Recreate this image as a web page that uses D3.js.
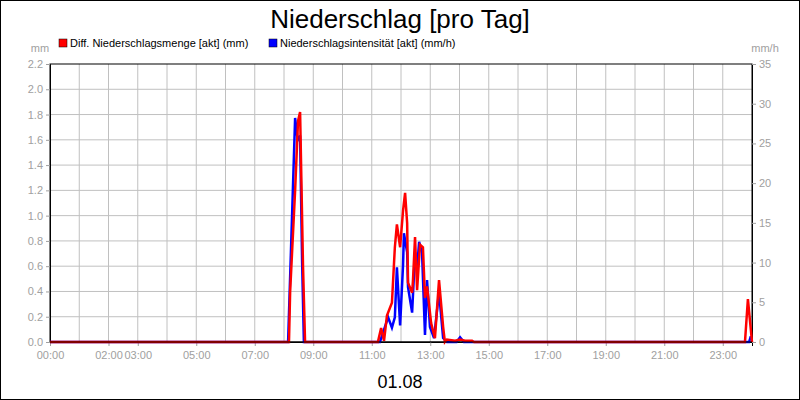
<!DOCTYPE html><html><head><meta charset="utf-8"><script src="https://cdn.jsdelivr.net/npm/d3@7"></script>
<style>body{margin:0}svg{font-family:Arial,"Liberation Sans",sans-serif}</style></head><body><svg id="c" width="800" height="400"></svg><script>
const tickHours=[0,2,3,5,7,9,11,13,15,17,19,21,23];
const tickLabels=["00:00","02:00","03:00","05:00","07:00","09:00","11:00","13:00","15:00","17:00","19:00","21:00","23:00"];
const leftTicks=[0,0.2,0.4,0.6,0.8,1.0,1.2,1.4,1.6,1.8,2.0,2.2];
const rightTicks=[0,5,10,15,20,25,30,35];
const redHours=[0,8.17,8.21,8.38,8.48,8.55,8.65,8.72,11.21,11.32,11.42,11.52,11.69,11.79,11.86,11.97,12.07,12.14,12.21,12.24,12.38,12.41,12.48,12.55,12.65,12.75,12.82,12.89,13.03,13.16,13.30,13.44,13.50,13.57,13.85,14.02,14.19,14.43,14.5,23.76,23.86,24];
const redVals=[0,0,0.4,1.2,1.75,1.82,0.6,0,0,0.11,0.01,0.21,0.31,0.75,0.93,0.75,1.04,1.18,0.94,0.47,0.39,0.49,0.83,0.41,0.77,0.75,0.35,0.44,0.15,0.03,0.49,0.12,0,0.02,0.01,0.02,0.01,0.01,0,0,0.34,0];
const blueHours=[0,8.14,8.38,8.45,8.48,8.55,8.62,8.68,11.28,11.56,11.69,11.79,11.86,11.97,12.07,12.10,12.21,12.24,12.38,12.48,12.55,12.62,12.72,12.82,12.89,12.99,13.13,13.30,13.44,13.57,13.9,14.02,14.15,23.9,23.95,24];
const blueVals=[0,0,28.2,26,25.5,26,10,0,0,3.1,1.8,3.1,9.4,2.1,9.7,13.7,11.3,6.9,3.7,11.3,9.4,12.6,11.2,0.9,7.8,1.9,0.5,6.3,0.5,0,0,0.6,0,0,0.6,0.6];
const svg=d3.select("#c");
svg.append("rect").attr("x",0.5).attr("y",0.5).attr("width",799).attr("height",399).attr("fill","#fff").attr("stroke","#000");
const L=50,R=752,T=64,B=342;
const x=d3.scaleLinear().domain([0,24]).range([L,R]);
const yl=d3.scaleLinear().domain([0,2.2]).range([B,T]);
const yr=d3.scaleLinear().domain([0,35]).range([B,T]);
const g=svg.append("g");
d3.range(1,24).forEach(h=>g.append("line").attr("x1",x(h)).attr("x2",x(h)).attr("y1",T).attr("y2",B).attr("stroke","#c0c0c0"));
leftTicks.slice(1,-1).forEach(v=>g.append("line").attr("x1",L).attr("x2",R).attr("y1",yl(v)).attr("y2",yl(v)).attr("stroke","#c0c0c0"));
g.append("rect").attr("x",L).attr("y",T).attr("width",R-L).attr("height",B-T).attr("fill","none").attr("stroke","#000");
const gray="#a0a0a0";
const ax=svg.append("g").attr("transform",`translate(0,${B})`).call(d3.axisBottom(x).tickValues(tickHours).tickFormat((d,i)=>tickLabels[i]).tickSizeOuter(0).tickSize(4));
const al=svg.append("g").attr("transform",`translate(${L},0)`).call(d3.axisLeft(yl).tickValues(leftTicks).tickFormat(d3.format(".1f")).tickSizeOuter(0).tickSize(4));
const ar=svg.append("g").attr("transform",`translate(${R},0)`).call(d3.axisRight(yr).tickValues(rightTicks).tickFormat(d3.format("d")).tickSizeOuter(0).tickSize(4));
[ax,al,ar].forEach(a=>{a.select(".domain").attr("stroke","#000");a.selectAll(".tick line").attr("stroke",gray);a.selectAll("text").attr("fill",gray).style("font-size","11px").style("font-family","Arial,'Liberation Sans',sans-serif");});
ax.selectAll("text").attr("dy","0.9em");
const lr=d3.line().x((d,i)=>x(redHours[i])).y(d=>yl(d));
const lb=d3.line().x((d,i)=>x(blueHours[i])).y(d=>yr(d));
svg.append("path").attr("d",lb(blueVals)).attr("fill","none").attr("stroke","#0000ff").attr("stroke-width",2.5);
svg.append("path").attr("d",lr(redVals)).attr("fill","none").attr("stroke","#ff0000").attr("stroke-width",2.5);
svg.append("line").attr("x1",L).attr("x2",R).attr("y1",B).attr("y2",B).attr("stroke","#000");
svg.append("text").attr("x",400).attr("y",28).attr("text-anchor","middle").style("font-size","26px").text("Niederschlag [pro Tag]");
svg.append("text").attr("x",400).attr("y",388).attr("text-anchor","middle").style("font-size","18px").text("01.08");
svg.append("text").attr("x",40).attr("y",52).attr("text-anchor","middle").attr("fill",gray).style("font-size","11px").text("mm");
svg.append("text").attr("x",765).attr("y",52).attr("text-anchor","middle").attr("fill",gray).style("font-size","11px").text("mm/h");
[["Diff. Niederschlagsmenge [akt] (mm)","#ff0000",59],["Niederschlagsintensität [akt] (mm/h)","#0000ff",269]].forEach(([t,c,px])=>{
svg.append("rect").attr("x",px).attr("y",39).attr("width",8).attr("height",8).attr("fill",c).attr("stroke","#000").attr("stroke-width",0.5);
svg.append("text").attr("x",px+11).attr("y",47).style("font-size","11px").text(t);});
</script></body></html>
